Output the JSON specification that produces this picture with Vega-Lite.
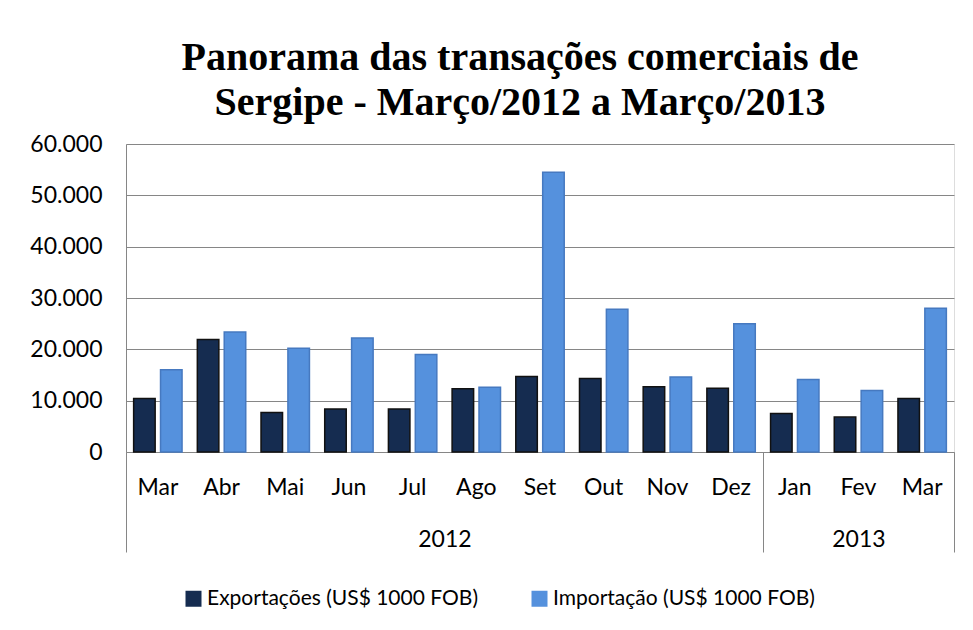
{
  "$schema": "https://vega.github.io/schema/vega-lite/v6.json",
  "width": 828,
  "height": 308,
  "autosize": "none",
  "padding": {"left": 126, "top": 144, "right": 19, "bottom": 178},
  "background": "white",
  "title": {
    "text": ["Panorama das transações comerciais de", "Sergipe - Março/2012 a Março/2013"],
    "font": "Liberation Serif",
    "fontSize": 40,
    "fontWeight": "bold",
    "color": "black",
    "anchor": "middle",
    "dx": -20,
    "offset": -26,
    "lineHeight": 45
  },
  "data": {
    "values": [
      {"mes": "Mar/2012", "serie": "Exportações (US$ 1000 FOB)", "valor": 10400},
      {"mes": "Mar/2012", "serie": "Importação (US$ 1000 FOB)", "valor": 16000},
      {"mes": "Abr/2012", "serie": "Exportações (US$ 1000 FOB)", "valor": 21900},
      {"mes": "Abr/2012", "serie": "Importação (US$ 1000 FOB)", "valor": 23400},
      {"mes": "Mai/2012", "serie": "Exportações (US$ 1000 FOB)", "valor": 7700},
      {"mes": "Mai/2012", "serie": "Importação (US$ 1000 FOB)", "valor": 20200},
      {"mes": "Jun/2012", "serie": "Exportações (US$ 1000 FOB)", "valor": 8400},
      {"mes": "Jun/2012", "serie": "Importação (US$ 1000 FOB)", "valor": 22200},
      {"mes": "Jul/2012", "serie": "Exportações (US$ 1000 FOB)", "valor": 8400},
      {"mes": "Jul/2012", "serie": "Importação (US$ 1000 FOB)", "valor": 19000},
      {"mes": "Ago/2012", "serie": "Exportações (US$ 1000 FOB)", "valor": 12300},
      {"mes": "Ago/2012", "serie": "Importação (US$ 1000 FOB)", "valor": 12600},
      {"mes": "Set/2012", "serie": "Exportações (US$ 1000 FOB)", "valor": 14700},
      {"mes": "Set/2012", "serie": "Importação (US$ 1000 FOB)", "valor": 54500},
      {"mes": "Out/2012", "serie": "Exportações (US$ 1000 FOB)", "valor": 14300},
      {"mes": "Out/2012", "serie": "Importação (US$ 1000 FOB)", "valor": 27800},
      {"mes": "Nov/2012", "serie": "Exportações (US$ 1000 FOB)", "valor": 12700},
      {"mes": "Nov/2012", "serie": "Importação (US$ 1000 FOB)", "valor": 14600},
      {"mes": "Dez/2012", "serie": "Exportações (US$ 1000 FOB)", "valor": 12400},
      {"mes": "Dez/2012", "serie": "Importação (US$ 1000 FOB)", "valor": 25000},
      {"mes": "Jan/2013", "serie": "Exportações (US$ 1000 FOB)", "valor": 7500},
      {"mes": "Jan/2013", "serie": "Importação (US$ 1000 FOB)", "valor": 14100},
      {"mes": "Fev/2013", "serie": "Exportações (US$ 1000 FOB)", "valor": 6800},
      {"mes": "Fev/2013", "serie": "Importação (US$ 1000 FOB)", "valor": 12000},
      {"mes": "Mar/2013", "serie": "Exportações (US$ 1000 FOB)", "valor": 10400},
      {"mes": "Mar/2013", "serie": "Importação (US$ 1000 FOB)", "valor": 28000}
    ]
  },
  "encoding": {
    "y": {
      "field": "valor",
      "type": "quantitative",
      "scale": {"domain": [0, 60000], "nice": false},
      "axis": {
        "title": null,
        "tickCount": 6,
        "format": ",d",
        "labelExpr": "replace(datum.label, ',', '.')",
        "labelFont": "Lato",
        "labelFontSize": 23,
        "labelColor": "black",
        "labelPadding": 24,
        "ticks": false,
        "domain": true,
        "domainColor": "#868686",
        "domainWidth": 1,
        "grid": true,
        "gridColor": "#868686",
        "gridWidth": 1
      }
    }
  },
  "layer": [
    {
      "mark": {"type": "bar", "strokeWidth": 1.5},
      "encoding": {
        "x": {
          "field": "mes",
          "type": "nominal",
          "sort": null,
          "scale": {"paddingInner": 0, "paddingOuter": 0},
          "axis": {
            "orient": "bottom",
            "title": null,
            "labelAngle": 0,
            "labelExpr": "split(datum.value, '/')[0]",
            "labelFont": "Lato",
            "labelFontSize": 23,
            "labelColor": "black",
            "labelPadding": 24,
            "ticks": false,
            "grid": false,
            "domain": true,
            "domainColor": "#868686",
            "domainWidth": 1
          }
        },
        "xOffset": {
          "field": "serie",
          "type": "nominal",
          "scale": {"paddingInner": 0.2, "paddingOuter": 0.284}
        },
        "color": {
          "field": "serie",
          "type": "nominal",
          "scale": {
            "domain": ["Exportações (US$ 1000 FOB)", "Importação (US$ 1000 FOB)"],
            "range": ["#152c50", "#5591dd"]
          },
          "legend": {
            "title": null,
            "orient": "none",
            "legendX": 57,
            "legendY": 444,
            "direction": "horizontal",
            "symbolType": "square",
            "symbolSize": 256,
            "symbolStrokeWidth": 0,
            "labelFont": "Lato",
            "labelFontSize": 21,
            "labelColor": "black",
            "labelOffset": 3,
            "labelLimit": 500,
            "columnPadding": 50,
            "padding": 0
          }
        },
        "stroke": {
          "condition": {"test": "datum.serie === 'Exportações (US$ 1000 FOB)'", "value": "#111111"},
          "value": "#4679c0"
        }
      }
    },
    {
      "mark": {"type": "bar", "opacity": 0},
      "encoding": {
        "x": {
          "field": "mes",
          "type": "nominal",
          "sort": null,
          "scale": {"paddingInner": 0, "paddingOuter": 0},
          "axis": {
            "orient": "bottom",
            "title": null,
            "labelAngle": 0,
            "labelExpr": "datum.value === 'Jul/2012' ? '2012' : datum.value === 'Fev/2013' ? '2013' : ''",
            "labelOffset": {"condition": {"test": "datum.value === 'Jul/2012'", "value": 31.85}, "value": 0},
            "labelFont": "Lato",
            "labelFontSize": 23,
            "labelColor": "black",
            "labelPadding": -24,
            "ticks": true,
            "tickBand": "extent",
            "tickSize": 100,
            "tickColor": "#868686",
            "tickWidth": 1,
            "tickOpacity": {"condition": {"test": "datum.value === 'Dez/2012' || datum.value === 'Mar/2013' || datum.index < 0", "value": 1}, "value": 0},
            "grid": false,
            "domain": false
          }
        }
      }
    }
  ],
  "resolve": {"axis": {"x": "independent"}}
}
